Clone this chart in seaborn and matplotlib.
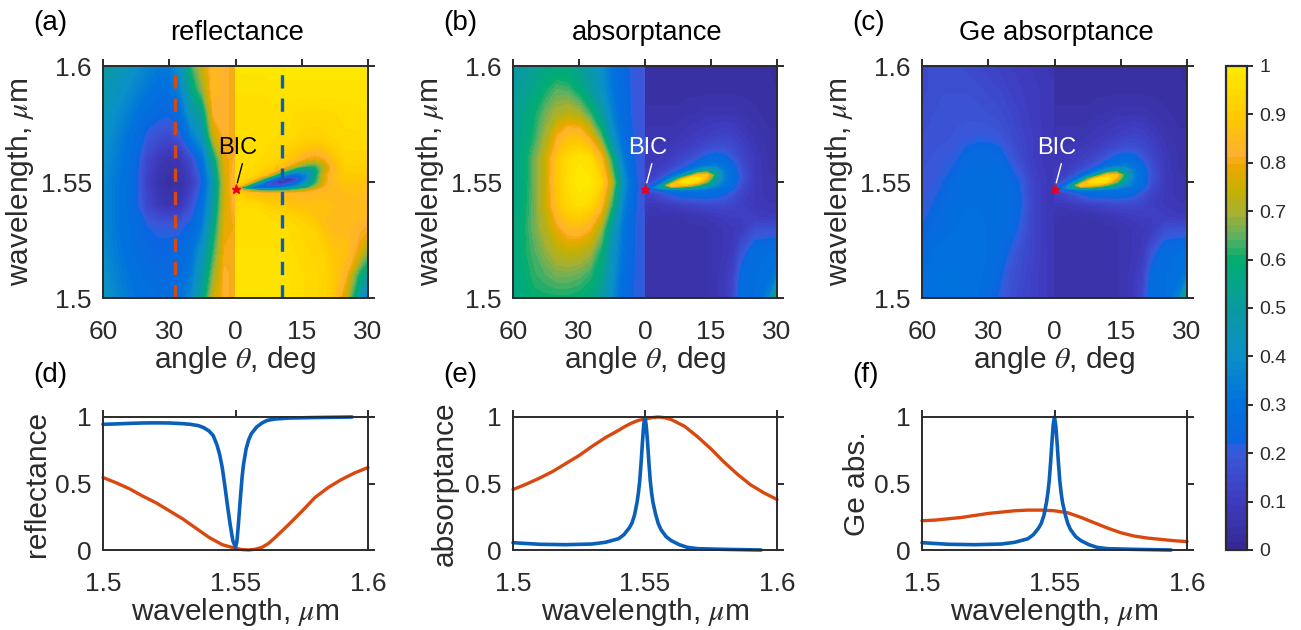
import numpy as np
import pandas as pd
import matplotlib
matplotlib.use("Agg")
import matplotlib.pyplot as plt
from matplotlib.colors import LinearSegmentedColormap
from matplotlib.cm import ScalarMappable
from matplotlib.colors import Normalize
import seaborn as sns

# grid of the maps, left half (theta 60..0) and right half (theta 0..30)
theta_left = [60, 55, 50, 45, 40, 35, 30, 25, 20, 15, 10, 5, 0]
wl_left = [1.60, 1.59, 1.58, 1.57, 1.56, 1.55, 1.54, 1.53, 1.52, 1.51, 1.50]
theta_right = [0, 1, 2.5, 4, 6, 8, 10, 12, 14, 16, 18, 20, 22, 25, 28, 30]
wl_right = [1.60, 1.59, 1.58, 1.57, 1.565, 1.56, 1.557, 1.555, 1.553, 1.5515, 1.55, 1.5485, 1.5475, 1.5465, 1.545,
            1.54, 1.535, 1.53, 1.52, 1.51, 1.50]

refl_left = [
    [.50, .47, .44, .40, .36, .33, .33, .42, .62, .74, .85, .82, .80],
    [.47, .43, .40, .36, .32, .29, .29, .36, .55, .68, .85, .82, .80],
    [.45, .40, .36, .31, .27, .24, .23, .28, .45, .54, .82, .82, .80],
    [.42, .37, .32, .27, .20, .17, .15, .20, .34, .44, .74, .82, .80],
    [.40, .35, .30, .24, .14, .09, .07, .08, .16, .30, .56, .78, .82],
    [.38, .33, .29, .23, .12, .06, .03, .05, .10, .22, .47, .75, .85],
    [.38, .33, .29, .23, .14, .09, .07, .08, .17, .28, .50, .76, .83],
    [.38, .33, .29, .26, .22, .21, .21, .21, .24, .34, .56, .78, .80],
    [.39, .34, .30, .27, .24, .23, .23, .24, .30, .42, .62, .80, .80],
    [.41, .36, .32, .29, .27, .25, .25, .27, .33, .48, .68, .82, .80],
    [.44, .38, .34, .31, .29, .28, .28, .30, .38, .54, .74, .82, .80],
]
refl_right = [
    [.99, .99, .99, .99, .99, .99, .99, .99, .99, .99, .99, .99, .99, .99, .99, .99],
    [.97, .97, .97, .97, .97, .98, .98, .98, .98, .98, .98, .98, .98, .98, .98, .98],
    [.96, .96, .96, .96, .96, .96, .96, .96, .95, .95, .95, .95, .95, .96, .96, .97],
    [.96, .96, .96, .96, .96, .96, .95, .95, .94, .93, .93, .93, .94, .95, .95, .96],
    [.96, .96, .96, .96, .96, .95, .94, .92, .90, .88, .87, .88, .91, .94, .94, .94],
    [.96, .96, .96, .96, .95, .94, .92, .89, .85, .80, .78, .80, .86, .93, .93, .92],
    [.96, .96, .96, .95, .94, .92, .88, .80, .72, .64, .62, .72, .84, .92, .92, .91],
    [.96, .96, .95, .94, .92, .88, .78, .62, .48, .44, .55, .72, .84, .91, .91, .90],
    [.95, .95, .95, .93, .88, .74, .50, .30, .25, .36, .56, .76, .85, .90, .90, .89],
    [.95, .95, .93, .88, .70, .42, .15, .08, .15, .36, .58, .76, .85, .89, .89, .88],
    [.94, .93, .88, .72, .42, .18, .05, .10, .24, .42, .60, .77, .85, .88, .88, .87],
    [.90, .84, .66, .40, .22, .16, .18, .26, .36, .50, .66, .79, .85, .87, .87, .87],
    [.85, .62, .42, .28, .24, .26, .32, .38, .50, .60, .72, .81, .85, .87, .87, .86],
    [.85, .80, .74, .66, .60, .58, .60, .62, .68, .74, .80, .83, .85, .86, .86, .86],
    [.90, .92, .88, .86, .85, .85, .85, .84, .84, .84, .84, .85, .85, .86, .86, .85],
    [.92, .95, .95, .95, .93, .91, .90, .88, .87, .87, .87, .87, .86, .85, .85, .85],
    [.94, .96, .96, .96, .96, .95, .94, .93, .92, .90, .87, .86, .85, .85, .85, .84],
    [.95, .96, .96, .96, .96, .96, .96, .95, .94, .93, .92, .87, .85, .85, .82, .80],
    [.97, .97, .97, .97, .97, .97, .97, .96, .95, .94, .93, .92, .88, .87, .78, .68],
    [.97, .97, .97, .97, .97, .97, .97, .97, .96, .95, .94, .93, .90, .82, .60, .50],
    [.97, .97, .97, .97, .97, .97, .97, .97, .96, .95, .94, .93, .90, .74, .48, .30],
]

abs_left = [
    [.48, .50, .52, .55, .56, .55, .52, .48, .40, .30, .24, .20, .19],
    [.50, .52, .56, .60, .64, .63, .58, .50, .42, .32, .25, .20, .19],
    [.52, .55, .60, .66, .70, .72, .70, .62, .50, .35, .26, .20, .19],
    [.53, .56, .62, .70, .80, .86, .86, .78, .64, .42, .28, .21, .19],
    [.54, .58, .66, .75, .88, .95, .98, .96, .84, .60, .34, .22, .18],
    [.55, .58, .66, .75, .89, .96, 1.0, .99, .93, .72, .42, .24, .17],
    [.55, .59, .66, .75, .87, .94, .96, .94, .84, .62, .36, .23, .18],
    [.56, .60, .66, .72, .79, .84, .85, .81, .70, .48, .31, .22, .19],
    [.56, .60, .64, .68, .72, .74, .73, .70, .60, .44, .30, .22, .20],
    [.56, .59, .62, .64, .66, .66, .65, .62, .55, .41, .28, .22, .20],
    [.55, .58, .60, .60, .60, .60, .59, .57, .50, .38, .27, .21, .20],
]
abs_right = [
    [.03, .03, .03, .03, .03, .03, .03, .03, .03, .03, .03, .03, .03, .03, .03, .02],
    [.04, .04, .04, .04, .04, .04, .04, .04, .04, .04, .04, .04, .04, .04, .04, .03],
    [.05, .05, .05, .05, .05, .05, .06, .06, .07, .07, .07, .07, .06, .05, .04, .04],
    [.07, .07, .07, .07, .07, .08, .09, .10, .11, .12, .13, .12, .10, .07, .05, .05],
    [.08, .08, .08, .08, .09, .10, .11, .13, .15, .17, .17, .15, .12, .08, .06, .05],
    [.09, .09, .09, .10, .11, .13, .16, .20, .25, .27, .25, .20, .14, .09, .06, .06],
    [.09, .09, .10, .11, .13, .17, .22, .28, .32, .34, .30, .24, .16, .09, .06, .06],
    [.10, .10, .11, .13, .17, .23, .31, .42, .52, .46, .33, .26, .17, .09, .06, .06],
    [.10, .11, .12, .16, .24, .36, .58, .85, .88, .56, .35, .27, .18, .09, .07, .06],
    [.11, .12, .15, .21, .36, .68, .96, 1.0, .80, .50, .34, .27, .18, .09, .07, .06],
    [.13, .14, .20, .30, .60, .96, 1.0, .90, .66, .44, .33, .27, .17, .09, .07, .07],
    [.16, .20, .28, .50, .90, .86, .76, .62, .50, .38, .31, .25, .15, .09, .07, .07],
    [.18, .26, .36, .50, .58, .56, .50, .44, .38, .33, .29, .24, .15, .09, .07, .07],
    [.15, .18, .22, .26, .30, .32, .32, .31, .30, .29, .27, .21, .14, .09, .07, .07],
    [.12, .13, .15, .18, .22, .26, .27, .27, .27, .26, .23, .18, .13, .09, .07, .07],
    [.09, .08, .08, .09, .10, .11, .12, .13, .14, .14, .14, .13, .11, .09, .08, .08],
    [.07, .06, .06, .06, .06, .06, .07, .07, .08, .09, .10, .11, .11, .11, .10, .10],
    [.06, .05, .05, .05, .05, .05, .05, .06, .06, .07, .08, .09, .10, .16, .17, .17],
    [.05, .05, .05, .05, .05, .05, .05, .06, .06, .07, .08, .10, .18, .27, .28, .29],
    [.05, .05, .05, .05, .05, .05, .05, .05, .06, .07, .09, .13, .25, .28, .29, .33],
    [.05, .05, .05, .05, .05, .05, .05, .05, .06, .07, .09, .15, .27, .28, .35, .62],
]

ge_left = [
    [.15, .16, .16, .16, .15, .14, .13, .12, .11, .10, .09, .08, .07],
    [.15, .16, .17, .17, .17, .16, .15, .14, .12, .11, .10, .09, .08],
    [.16, .17, .18, .18, .18, .18, .17, .16, .14, .12, .10, .09, .08],
    [.17, .18, .18, .19, .20, .20, .20, .19, .16, .13, .11, .09, .08],
    [.18, .19, .20, .21, .24, .26, .26, .25, .20, .15, .11, .09, .08],
    [.19, .20, .22, .25, .27, .28, .28, .27, .25, .21, .13, .10, .08],
    [.20, .22, .25, .27, .28, .28, .28, .27, .26, .22, .13, .10, .08],
    [.22, .25, .27, .28, .29, .29, .28, .27, .25, .20, .13, .10, .08],
    [.26, .28, .29, .29, .29, .29, .28, .26, .21, .16, .13, .10, .08],
    [.28, .29, .30, .30, .29, .29, .27, .23, .18, .15, .12, .10, .08],
    [.30, .30, .30, .30, .30, .28, .25, .21, .17, .14, .12, .10, .08],
]
# right half of the Ge map looks the same as the total absorptance
ge_right = abs_right

# line cuts
wl_r_blue = [1.5, 1.505, 1.51, 1.515, 1.52, 1.525, 1.53, 1.533, 1.536, 1.538, 1.54, 1.5416, 1.543, 1.544, 1.545, 1.546,
             1.547, 1.548, 1.549, 1.55, 1.5505, 1.551, 1.5515, 1.552, 1.5525, 1.553, 1.554, 1.555, 1.556, 1.558, 1.56,
             1.562, 1.565, 1.57, 1.58, 1.594]
r_blue = [.945, .948, .952, .955, .956, .955, .95, .945, .935, .92, .895, .86, .79, .72, .62, .48,
          .33, .19, .07, .02, .06, .17, .30, .43, .55, .64, .76, .83, .875, .925, .955,
          .975, .985, .992, .996, 1.0]
wl_r_orange = [1.5, 1.505, 1.51, 1.515, 1.52, 1.525, 1.53, 1.535, 1.54, 1.545, 1.55, 1.5525, 1.555, 1.5575, 1.56,
               1.5625, 1.565, 1.57, 1.575, 1.58, 1.585, 1.59, 1.595, 1.6]
r_orange = [.545, .505, .46, .405, .355, .295, .235, .165, .095, .04, .012, .003, 0, .006, .02,
            .05, .095, .19, .29, .395, .47, .53, .58, .62]
wl_a_blue = [1.5, 1.51, 1.52, 1.53, 1.535, 1.54, 1.542, 1.544, 1.545, 1.546, 1.547, 1.5475, 1.548, 1.5485, 1.549, 1.5495,
             1.55, 1.5505, 1.551, 1.5515, 1.552, 1.5525, 1.553, 1.554, 1.555, 1.556, 1.558, 1.56, 1.563, 1.566, 1.57,
             1.58, 1.594]
a_blue = [.055, .043, .04, .045, .058, .085, .115, .165, .20, .26, .36, .43, .52, .65, .80, .94,
          1.0, .93, .80, .65, .52, .43, .36, .27, .20, .155, .10, .07, .04, .02, .01,
          .005, 0]
wl_a_orange = [1.5, 1.505, 1.51, 1.515, 1.52, 1.525, 1.53, 1.535, 1.54, 1.5425, 1.545, 1.5475, 1.55, 1.5525, 1.555,
               1.5575, 1.56, 1.565, 1.57, 1.575, 1.58, 1.585, 1.59, 1.595, 1.6]
a_orange = [.455, .495, .54, .59, .65, .71, .78, .845, .90, .93, .955, .975, .985, .995, 1.0,
            .995, .98, .93, .85, .76, .66, .57, .49, .43, .38]
wl_g_orange = [1.5, 1.505, 1.51, 1.515, 1.52, 1.525, 1.53, 1.535, 1.54, 1.545, 1.55, 1.555, 1.56, 1.565, 1.57, 1.575,
               1.58, 1.585, 1.59, 1.595, 1.6]
g_orange = [.22, .225, .235, .245, .26, .275, .285, .295, .30, .30, .295, .28, .245, .205, .165, .13,
            .105, .09, .08, .07, .063]

cbar_stops = [0, .1, .2, .22, .3, .4, .5, .6, .65, .7, .75, .8, .82, .9, 1]
cbar_colors = ["#352a95", "#3f3cc0", "#3a5adc", "#0a66e0", "#0072dd", "#0a90c8", "#0a9aa0", "#00ad70",
               "#60b060", "#a8b030", "#c8b000", "#f0a800", "#ffb030", "#ffc800", "#ffe800"]

W, H = 1301, 630
INK = "#2b2b2b"
BLUE = "#0a5fb8"
ORANGE = "#d9480f"


# axes from pixel box
def pixelAxes(fig, left, top, right, bottom):
    return fig.add_axes([left / W, 1 - bottom / H, (right - left) / W, (bottom - top) / H])


def boxStyle(ax):
    ax.tick_params(which="both", direction="out", length=5, width=1.4, color=INK, labelcolor=INK,
                   top=True, right=True, labelsize=19, pad=3)
    ax.tick_params(axis="x", pad=11)
    for s in ax.spines.values():
        s.set_visible(True)
        s.set_color(INK)
        s.set_linewidth(1.4)


# theta is stretched twice on the right half, 0..30 takes as much room as 60..0
def mapPanel(fig, box, left_vals, right_vals, title, bic_color, panel):
    ax = pixelAxes(fig, *box)
    levels = np.linspace(0, 1, 65)
    ax.contourf(-np.array(theta_left), wl_left, np.array(left_vals), levels=levels, cmap=cmap, extend="both")
    ax.contourf(2 * np.array(theta_right), wl_right, np.array(right_vals), levels=levels, cmap=cmap, extend="both")
    ax.set_xlim(-60, 60)
    ax.set_ylim(1.5, 1.6)
    ax.set_xticks([-60, -30, 0, 30, 60])
    ax.set_xticklabels(["60", "30", "0", "15", "30"])
    ax.set_yticks([1.5, 1.55, 1.6])
    ax.set_yticklabels(["1.5", "1.55", "1.6"])
    boxStyle(ax)
    ax.set_xlabel(r"angle $\theta$, deg", fontsize=21.5, color=INK, labelpad=0)
    ax.set_ylabel(r"wavelength, $\mu$m", fontsize=21.5, color=INK)
    ax.yaxis.set_label_coords(-67 / (box[2] - box[0]), 0.5)
    ax.annotate("BIC", xy=(0.5, 1.5485), xytext=(1, 1.6 - 82 / 2320), ha="center", va="center", fontsize=17,
                color=bic_color, arrowprops=dict(arrowstyle="-", color=bic_color, lw=1, shrinkA=1, shrinkB=2,
                                                 relpos=(0.65, 0)))
    ax.plot([0], [1.547], marker="*", ms=6.5, color="#e8001c", clip_on=False, zorder=5)
    fig.text((box[0] + box[2]) / 2 / W + 2 / W, 1 - 33 / H, title, ha="center", va="center", fontsize=19.7, color="black")
    fig.text((box[0] - 70) / W, 1 - 23 / H, panel, ha="left", va="center", fontsize=20, color="black")
    return ax


def cutPanel(fig, box, blue, orange, ylabel, panel, label_x):
    ax = pixelAxes(fig, *box)
    sns.lineplot(x=orange[0], y=orange[1], color=ORANGE, lw=2.4, ax=ax, sort=False, clip_on=False)
    sns.lineplot(x=blue[0], y=blue[1], color=BLUE, lw=2.6, ax=ax, sort=False, clip_on=False)
    ax.set_xlim(1.5, 1.6)
    ax.set_ylim(0, 1)
    ax.set_xticks([1.5, 1.55, 1.6])
    ax.set_xticklabels(["1.5", "1.55", "1.6"])
    ax.set_yticks([0, 0.5, 1])
    ax.set_yticklabels(["0", "0.5", "1"])
    boxStyle(ax)
    ax.set_xlabel(r"wavelength, $\mu$m", fontsize=21.5, color=INK, labelpad=0)
    ax.set_ylabel(ylabel, fontsize=21.5, color=INK)
    ax.yaxis.set_label_coords((label_x - box[0]) / (box[2] - box[0]), 0.5)
    fig.text((box[0] - 70) / W, 1 - 375 / H, panel, ha="left", va="center", fontsize=20, color="black")
    return ax


if __name__ == "__main__":
    sns.set_theme(style="white")
    plt.rcParams["font.family"] = ["Liberation Sans", "DejaVu Sans"]
    plt.rcParams["mathtext.fontset"] = "stix"

    cmap = LinearSegmentedColormap.from_list("bic", list(zip(cbar_stops, cbar_colors)), N=64)
    cmap.set_under(cbar_colors[0])
    cmap.set_over(cbar_colors[-1])

    fig = plt.figure(figsize=(W / 100, H / 100), dpi=100)

    mapPanel(fig, (103, 66, 368, 298), refl_left, refl_right, "reflectance", "black", "(a)")
    axa = fig.axes[0]
    axa.axvline(-27.5, color=ORANGE, lw=2.4, dashes=(4, 3))
    axa.axvline(21, color=BLUE, lw=2.4, dashes=(4, 3))
    mapPanel(fig, (513, 66, 777, 298), abs_left, abs_right, "absorptance", "white", "(b)")
    mapPanel(fig, (922, 66, 1187, 298), ge_left, ge_right, "Ge absorptance", "white", "(c)")

    cutPanel(fig, (103, 417, 368, 550), (wl_r_blue, r_blue), (wl_r_orange, r_orange), "reflectance", "(d)", 51)
    cutPanel(fig, (513, 417, 777, 550), (wl_a_blue, a_blue), (wl_a_orange, a_orange), "absorptance", "(e)", 459)
    cutPanel(fig, (922, 417, 1187, 550), (wl_a_blue, a_blue), (wl_g_orange, g_orange), "Ge abs.", "(f)", 871)

    cax = pixelAxes(fig, 1226, 66, 1247, 550)
    cb = fig.colorbar(ScalarMappable(Normalize(0, 1), cmap), cax=cax)
    cb.set_ticks(np.arange(0, 1.01, 0.1))
    cb.set_ticklabels(["0", "0.1", "0.2", "0.3", "0.4", "0.5", "0.6", "0.7", "0.8", "0.9", "1"])
    cb.ax.tick_params(length=4, width=1.4, color=INK, labelcolor=INK, labelsize=14, pad=5)
    cb.outline.set_edgecolor(INK)
    cb.outline.set_linewidth(1.6)

    fig.savefig("out.png", dpi=100)
